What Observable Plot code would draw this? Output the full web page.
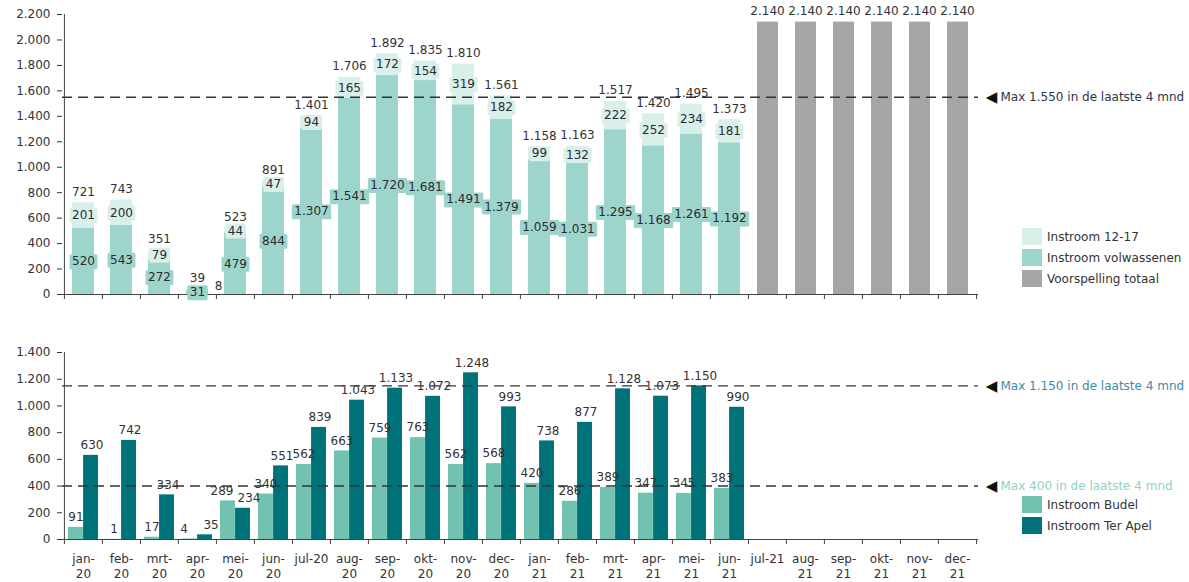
<!DOCTYPE html>
<html>
<head>
<meta charset="utf-8">
<script src="https://cdn.jsdelivr.net/npm/d3@7"></script>
<script src="https://cdn.jsdelivr.net/npm/@observablehq/plot@0.6"></script>
<style>
  body { margin: 0; background: #fff; font-family: "DejaVu Sans", sans-serif; }
  #chart { position: relative; width: 1189px; height: 582px; }
  #chart svg { position: absolute; left: 0; }
  .legend { position: absolute; left: 1022px; font-size: 12px; color: #333; }
  .legend .row { position: absolute; left: 0; display: flex; align-items: center; white-space: nowrap; }
  .legend .sw { width: 20px; height: 17px; margin-right: 5px; }
</style>
</head>
<body>
<div id="chart"></div>
<script>
// ---------- data ----------
const months = ["jan-20","feb-20","mrt-20","apr-20","mei-20","jun-20","jul-20","aug-20","sep-20","okt-20","nov-20","dec-20",
                "jan-21","feb-21","mrt-21","apr-21","mei-21","jun-21","jul-21","aug-21","sep-21","okt-21","nov-21","dec-21"];
const monthTickLabels = ["jan-\n20","feb-\n20","mrt-\n20","apr-\n20","mei-\n20","jun-\n20","jul-20","aug-\n20","sep-\n20","okt-\n20","nov-\n20","dec-\n20",
                "jan-\n21","feb-\n21","mrt-\n21","apr-\n21","mei-\n21","jun-\n21","jul-21","aug-\n21","sep-\n21","okt-\n21","nov-\n21","dec-\n21"];
const histMonths = months.slice(0, 18);
const volwassenen = [520,543,272,31,479,844,1307,1541,1720,1681,1491,1379,1059,1031,1295,1168,1261,1192];
const jongeren    = [201,200,79,8,44,47,94,165,172,154,319,182,99,132,222,252,234,181];
const totaal      = [721,743,351,39,523,891,1401,1706,1892,1835,1810,1561,1158,1163,1517,1420,1495,1373];
const forecastMonths = ["jul-21","aug-21","sep-21","okt-21","nov-21","dec-21"];
const voorspelling = [2140,2140,2140,2140,2140,2140];
const budel   = [91,1,17,4,289,340,562,663,759,763,562,568,420,286,389,347,345,383];
const terApel = [630,742,334,35,234,551,839,1043,1133,1072,1248,993,738,877,1128,1073,1150,990];
const maxTop = 1550, maxTerApel = 1150, maxBudel = 400;
const topTicks = d3.range(0, 2201, 200);
const bottomTicks = d3.range(0, 1401, 200);

// ---------- helpers ----------
const nl = d3.formatLocale({decimal: ",", thousands: ".", grouping: [3], currency: ["€", ""]});
const fmt = nl.format(",d");
const W = 1189, ML = 62, MR = 211;
const bw = (W - ML - MR) / months.length;
const C = {vol: "#9dd5cc", jong: "#d9efea", fc: "#a6a6a6", budel: "#72c2b1", ter: "#00727a",
           text: "#333", axis: "#444"};

const hist = histMonths.map((m, i) => ({m, vol: volwassenen[i], jong: jongeren[i], tot: totaal[i]}));
const fc = forecastMonths.map((m, i) => ({m, v: voorspelling[i]}));
const bottom = histMonths.map((m, i) => ({m, budel: budel[i], ter: terApel[i]}));
const isClose = d => Math.abs(d.budel - d.ter) < 100;   // labels at similar height: push apart a little

function boundaryTicks(plotH) {
  return [
    Plot.ruleX(months, {x: d => d, dx: -bw / 2, insetTop: plotH, insetBottom: -5, stroke: C.axis}),
    Plot.ruleX([months[months.length - 1]], {x: d => d, dx: bw / 2, insetTop: plotH, insetBottom: -5, stroke: C.axis})
  ];
}
function annotation(yv, label, color) {
  return [
    Plot.ruleY([yv], {stroke: "#333", strokeWidth: 1.4, strokeDasharray: "10,6"}),
    Plot.text(["◀"], {y: () => yv, frameAnchor: "right", dx: 13, fill: "#111", fontSize: 15, textAnchor: "middle"}),
    Plot.text([label], {y: () => yv, frameAnchor: "right", dx: 22, textAnchor: "start", fill: color, fontSize: 12})
  ];
}

// ---------- top chart ----------
const topH = 310, topMT = 14, topMB = 16;
const topPlot = Plot.plot({
  width: W, height: topH, marginLeft: ML, marginRight: MR, marginTop: topMT, marginBottom: topMB,
  style: {fontFamily: "DejaVu Sans", fontSize: "12px", color: C.text, background: "transparent", overflow: "visible"},
  x: {domain: months, padding: 0, axis: null},
  y: {domain: [0, 2200], ticks: topTicks, tickFormat: fmt, tickSize: 5, tickPadding: 7, label: null},
  marks: [
    Plot.barY(hist, {x: "m", y1: 0, y2: "vol", fill: C.vol, insetLeft: 8, insetRight: 8}),
    Plot.barY(hist, {x: "m", y1: "vol", y2: "tot", fill: C.jong, insetLeft: 8, insetRight: 8}),
    Plot.barY(fc, {x: "m", y: "v", fill: C.fc, insetLeft: 9, insetRight: 8}),
    ...annotation(maxTop, "Max 1.550 in de laatste 4 mnd", "#2e3448"),
    Plot.ruleY([0], {stroke: C.axis}),
    Plot.ruleX([months[0]], {x: d => d, dx: -bw / 2, stroke: C.axis}),
    ...boundaryTicks(topH - topMT - topMB),
    Plot.text(hist, {x: "m", y: d => d.vol / 2, text: d => fmt(d.vol), fill: "#2b2b31", ariaDescription: "volbox"}),
    Plot.text(hist.filter(d => d.jong >= 20), {x: "m", y: d => d.vol + d.jong / 2, text: d => fmt(d.jong), fill: "#2b2b32", ariaDescription: "jongbox"}),
    Plot.text(hist.filter(d => d.jong < 20), {x: "m", y: d => d.vol + d.jong / 2, text: d => fmt(d.jong), fill: C.text, dx: 21, dy: -4}),
    Plot.text(hist, {x: "m", y: "tot", text: d => fmt(d.tot), dy: -11, fill: C.text}),
    Plot.text(fc, {x: "m", y: "v", text: d => fmt(d.v), dy: -11, fill: C.text})
  ]
});

// ---------- bottom chart ----------
const botH = 272, botMT = 42, botMB = 43;
const botPlot = Plot.plot({
  width: W, height: botH, marginLeft: ML, marginRight: MR, marginTop: botMT, marginBottom: botMB,
  style: {fontFamily: "DejaVu Sans", fontSize: "12px", color: C.text, background: "transparent", overflow: "visible"},
  x: {domain: months, padding: 0, axis: null},
  y: {domain: [0, 1400], ticks: bottomTicks, tickFormat: fmt, tickSize: 5, tickPadding: 7, label: null},
  marks: [
    Plot.barY(bottom, {x: "m", y: "budel", fill: C.budel, insetLeft: 4, insetRight: bw / 2}),
    Plot.barY(bottom, {x: "m", y: "ter", fill: C.ter, insetLeft: bw / 2, insetRight: 4}),
    ...annotation(maxTerApel, "Max 1.150 in de laatste 4 mnd", "#3b8ea6"),
    ...annotation(maxBudel, "Max 400 in de laatste 4 mnd", "#8dd3c3"),
    Plot.ruleY([0], {stroke: C.axis}),
    Plot.ruleX([months[0]], {x: d => d, dx: -bw / 2, stroke: C.axis}),
    ...boundaryTicks(botH - botMT - botMB),
    Plot.text(bottom.filter(d => !isClose(d)), {x: "m", y: "budel", text: d => fmt(d.budel), dx: -bw / 4 + 2, dy: -10, fill: C.text}),
    Plot.text(bottom.filter(d => !isClose(d)), {x: "m", y: "ter", text: d => fmt(d.ter), dx: bw / 4 - 1, dy: -10, fill: C.text}),
    Plot.text(bottom.filter(isClose), {x: "m", y: "budel", text: d => fmt(d.budel), dx: -bw / 4 - 4, dy: -10, fill: C.text}),
    Plot.text(bottom.filter(isClose), {x: "m", y: "ter", text: d => fmt(d.ter), dx: bw / 4 + 4, dy: -10, fill: C.text}),
    Plot.text(months, {x: d => d, text: (d, i) => monthTickLabels[i], frameAnchor: "bottom", lineAnchor: "top", dy: 13, lineHeight: 1.25, fill: C.text})
  ]
});

const chart = document.getElementById("chart");
topPlot.style.top = "0px";
botPlot.style.top = topH + "px";
chart.appendChild(topPlot);
chart.appendChild(botPlot);

function addBoxes(svg, desc, fillKey, color) {
  let groups = svg.querySelectorAll(`g[aria-description="${desc}"]`);
  if (!groups.length) groups = svg.querySelectorAll(`g[fill="${fillKey}"]`);
  groups.forEach(g => {
    g.querySelectorAll("text").forEach(t => {
      const bb = t.getBBox();
      const r = document.createElementNS("http://www.w3.org/2000/svg", "rect");
      r.setAttribute("x", bb.x - 2.5);
      r.setAttribute("y", bb.y);
      r.setAttribute("width", bb.width + 5);
      r.setAttribute("height", bb.height + 1);
      r.setAttribute("rx", 1.5);
      const tr = t.getAttribute("transform");
      if (tr) r.setAttribute("transform", tr);
      r.setAttribute("fill", color);
      g.insertBefore(r, t);
    });
  });
}
addBoxes(topPlot, "volbox", "#2b2b31", C.vol);
addBoxes(topPlot, "jongbox", "#2b2b32", C.jong);

// ---------- legends ----------
function legend(top, items) {
  const div = document.createElement("div");
  div.className = "legend";
  div.style.top = top + "px";
  items.forEach(([label, color], i) => {
    const row = document.createElement("div");
    row.className = "row";
    row.style.top = (i * 21) + "px";
    const sw = document.createElement("div");
    sw.className = "sw";
    sw.style.background = color;
    const tx = document.createElement("span");
    tx.textContent = label;
    row.appendChild(sw); row.appendChild(tx);
    div.appendChild(row);
  });
  chart.appendChild(div);
}
legend(228, [["Instroom 12-17", C.jong], ["Instroom volwassenen", C.vol], ["Voorspelling totaal", C.fc]]);
legend(496, [["Instroom Budel", C.budel], ["Instroom Ter Apel", C.ter]]);
</script>
</body>
</html>
